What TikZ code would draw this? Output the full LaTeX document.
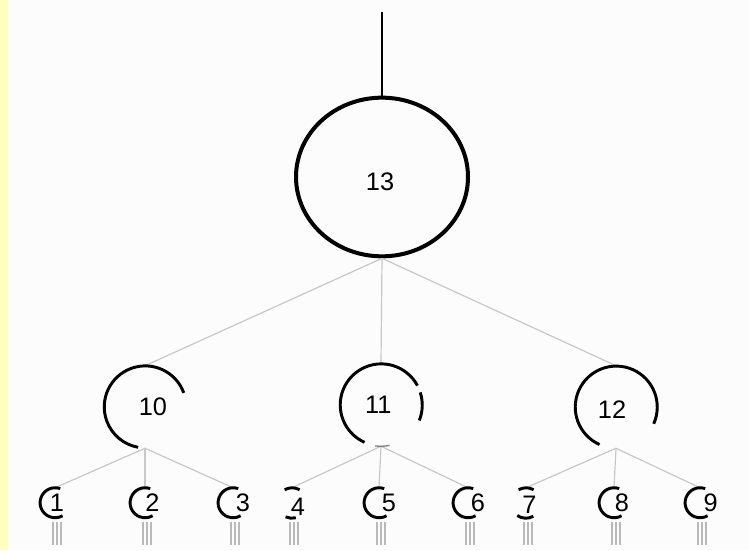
\documentclass[tikz,border=0pt]{standalone}
\usepackage{fontspec}
\setmainfont{Liberation Sans}
\usetikzlibrary{shapes.geometric}
\definecolor{pad}{HTML}{FFFFC0}
\definecolor{paper}{HTML}{FCFCFC}
\definecolor{twigc}{HTML}{C8C8C8}
\begin{document}
\begin{tikzpicture}[
    x=0.75pt, y=0.75pt,
    font=\fontsize{19}{21}\selectfont,
    root/.style={ellipse, draw, line width=3pt, minimum width=129pt, minimum height=119pt, inner sep=0pt},
    mid/.style={circle, minimum size=61.5pt, inner sep=0pt},
    leaf/.style={circle, minimum size=22.5pt, inner sep=0pt},
    rim/.style={line width=2.2pt},
    leafrim/.style={line width=2.2pt},
    twig/.style={draw=twigc, line width=0.9pt},
    stub/.style={draw=gray!55, line width=1.3pt}
]
    \fill[paper] (0,0) rectangle (749,550);
    \fill[pad] (0,0) rectangle (8,550);
    \useasboundingbox (0,0) rectangle (749,550);

    \coordinate (stem) at (382,538);
    \node[root, label={[xshift=-1.5pt, yshift=-3.5pt]center:13}] (n13) at (382,373) {};
    \node[mid, label={[xshift=6pt]center:10}] (n10) at (145,143) {};
    \node[mid, label={[xshift=-2pt]center:11}] (n11) at (381,145) {};
    \node[mid, label={[xshift=-3pt, yshift=-2pt]center:12}] (n12) at (616,143) {};

    \node[leaf, label={[xshift=1.5pt]center:1}] (l1) at (55,47) {};
    \node[leaf, label={[xshift=5.5pt]center:2}] (l2) at (145,47) {};
    \node[leaf, label={[xshift=7.5pt]center:3}] (l3) at (233,47) {};
    \node[leaf, label={[xshift=4.5pt, yshift=-3pt]center:4}] (l4) at (292,47) {};
    \node[leaf, label={[xshift=7.5pt]center:5}] (l5) at (379,47) {};
    \node[leaf, label={[xshift=7.5pt]center:6}] (l6) at (468,47) {};
    \node[leaf, label={[xshift=2.5pt, yshift=-1.5pt]center:7}] (l7) at (526,47) {};
    \node[leaf, label={[xshift=6pt]center:8}] (l8) at (614,47) {};
    \node[leaf, label={[xshift=8pt]center:9}] (l9) at (700,47) {};

    \draw[line width=1.8pt] (stem) -- (n13.north);

    \draw[twig] (n13.south) -- (n10.north);
    \draw[twig] (n13.south) -- (n11.north);
    \draw[twig] (n13.south) -- (n12.north);
    \draw[twig] (n10.south) -- (l1.north);
    \draw[twig] (n10.south) -- (l2.north);
    \draw[twig] (n10.south) -- (l3.north);
    \draw[twig] (n11.south) -- (l4.north);
    \draw[twig] (n11.south) -- (l5.north);
    \draw[twig] (n11.south) -- (l6.north);
    \draw[twig] (n12.south) -- (l7.north);
    \draw[twig] (n12.south) -- (l8.north);
    \draw[twig] (n12.south) -- (l9.north);

    \draw[rim] (n10.20) arc[start angle=20, end angle=260, radius=30.75pt];
    \draw[rim] (n11.28) arc[start angle=28, end angle=246, radius=30.75pt];
    \draw[rim] (n11.338) arc[start angle=-22, end angle=18, radius=30.75pt];
    \draw[line width=1pt, gray] (n11.262) arc[start angle=262, end angle=282, radius=30.75pt];
    \draw[rim] (n12.336) arc[start angle=-24, end angle=246, radius=30.75pt];

    \draw[leafrim] (l1.70) arc[start angle=70, end angle=300, radius=11.25pt];
    \draw[leafrim] (l2.70) arc[start angle=70, end angle=300, radius=11.25pt];
    \draw[leafrim] (l3.70) arc[start angle=70, end angle=300, radius=11.25pt];
    \draw[leafrim] (l4.60) arc[start angle=60, end angle=120, radius=11.25pt];
    \draw[leafrim] (l4.245) arc[start angle=245, end angle=285, radius=11.25pt];
    \draw[leafrim] (l5.70) arc[start angle=70, end angle=300, radius=11.25pt];
    \draw[leafrim] (l6.70) arc[start angle=70, end angle=300, radius=11.25pt];
    \draw[leafrim] (l7.60) arc[start angle=60, end angle=120, radius=11.25pt];
    \draw[leafrim] (l7.235) arc[start angle=235, end angle=300, radius=11.25pt];
    \draw[leafrim] (l8.70) arc[start angle=70, end angle=300, radius=11.25pt];
    \draw[leafrim] (l9.70) arc[start angle=70, end angle=300, radius=11.25pt];

    \foreach \l in {l1,l2,l3,l4,l5,l6,l7,l8,l9} {
        \draw[stub] ([xshift=-1.5pt, yshift=-3pt]\l.south) -- ++(0,-23);
        \draw[stub] ([xshift=1.5pt, yshift=-3pt]\l.south) -- ++(0,-23);
        \draw[stub] ([xshift=4.5pt, yshift=-3pt]\l.south) -- ++(0,-23);
    }
\end{tikzpicture}
\end{document}
